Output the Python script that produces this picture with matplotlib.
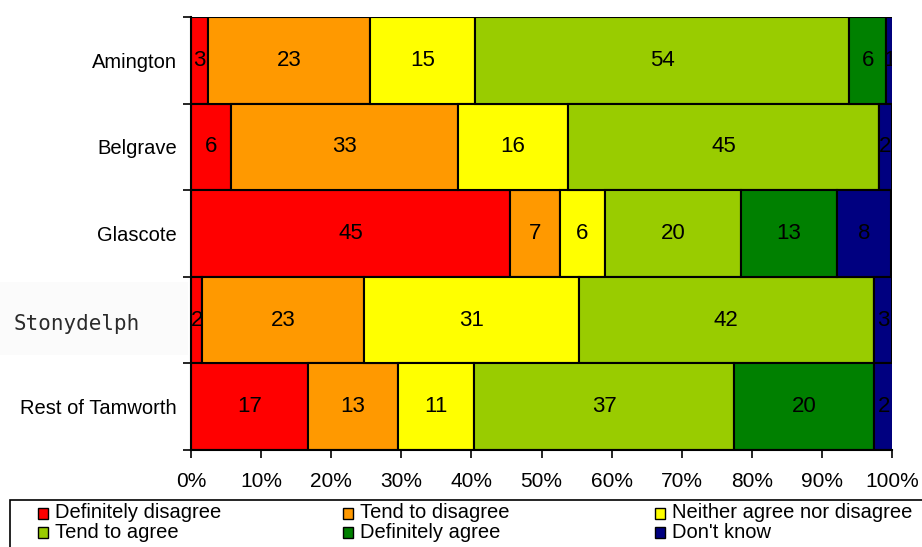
import matplotlib.pyplot as plt
from matplotlib.patches import Rectangle
from matplotlib.transforms import blended_transform_factory
import numpy as np

# Porcentajes (ancho de cada tramo) y etiquetas mostradas
areas = ['Amington', 'Belgrave', 'Glascote', 'Stonydelph', 'Rest of Tamworth']
categories = ['Definitely disagree', 'Tend to disagree', 'Neither agree nor disagree',
              'Tend to agree', 'Definitely agree', "Don't know"]
colors = ['#FF0000', '#FF9900', '#FFFF00', '#99CC00', '#008000', '#000080']

def_disagree = [2.4, 5.7, 45.5, 1.6, 16.7]
tend_disagree = [23.1, 32.4, 7.1, 23.1, 12.8]
neither = [15.0, 15.7, 6.4, 30.6, 10.9]
tend_agree = [53.4, 44.3, 19.5, 42.1, 37.1]
def_agree = [5.3, 0.0, 13.6, 0.0, 20.0]
dont_know = [0.9, 1.9, 7.8, 2.6, 2.6]

lbl_def_disagree = [3, 6, 45, 2, 17]
lbl_tend_disagree = [23, 33, 7, 23, 13]
lbl_neither = [15, 16, 6, 31, 11]
lbl_tend_agree = [54, 45, 20, 42, 37]
lbl_def_agree = [6, 0, 13, 0, 20]
lbl_dont_know = [1, 2, 8, 3, 2]

series = [def_disagree, tend_disagree, neither, tend_agree, def_agree, dont_know]
labels = [lbl_def_disagree, lbl_tend_disagree, lbl_neither, lbl_tend_agree,
          lbl_def_agree, lbl_dont_know]

plt.rcParams['font.family'] = ['Liberation Sans', 'DejaVu Sans']

fig = plt.figure(figsize=(9.22, 5.47), dpi=100)
ax = fig.add_axes([191 / 922, 1 - 450 / 547, 701 / 922, 433 / 547])

y = np.arange(len(areas))
left = np.zeros(len(areas))
for vals, lbls, col in zip(series, labels, colors):
    vals = np.array(vals)
    ax.barh(y, vals, left=left, height=1.0, color=col, edgecolor='black', linewidth=1.5)
    for i in range(len(areas)):
        if lbls[i] > 0:
            ax.text(left[i] + vals[i] / 2, y[i], str(lbls[i]), ha='center', va='center',
                    fontsize=16, color='black', clip_on=True)
    left += vals

ax.set_xlim(0, 100)
ax.set_ylim(len(areas) - 0.5, -0.5)
ax.set_xticks(np.arange(0, 101, 10))
ax.set_xticklabels([f'{t}%' for t in range(0, 101, 10)], fontsize=15)
ax.set_yticks(np.arange(-0.5, len(areas), 1.0))
ax.set_yticklabels([])
ax.set_yticks(y, minor=True)
# Stonydelph va aparte, con otra fuente como en el original
ax.set_yticklabels([a if a != 'Stonydelph' else '' for a in areas], minor=True, fontsize=14.5)
ax.tick_params(axis='y', which='minor', length=0, pad=10)
ax.tick_params(axis='y', which='major', length=6, width=1.2, direction='out')
ax.tick_params(axis='x', length=6, width=1.2, direction='out', pad=10)

trans = blended_transform_factory(fig.transFigure, ax.transData)
k_st = areas.index('Stonydelph')
fig.add_artist(Rectangle((0, 1 - 355 / 547), 188 / 922, 73 / 547, transform=fig.transFigure,
                         facecolor='#fbfbfb', edgecolor='none', zorder=0))
fig.text(14 / 922, 0, 'Stonydelph', transform=trans, ha='left', va='center',
         family='DejaVu Sans Mono', fontsize=15, color='#2a2a2a')
fig.texts[-1].set_y(y[k_st] + 0.04)

for s in ['top', 'right']:
    ax.spines[s].set_visible(False)
ax.spines['left'].set_linewidth(1.5)
ax.spines['bottom'].set_linewidth(1.5)

# Leyenda dibujada a mano: 3 columnas, 2 filas
fig.add_artist(Rectangle((10 / 922, -0.05), 1.0, 1 - 500 / 547 + 0.05,
                         transform=fig.transFigure, facecolor='white',
                         edgecolor='black', linewidth=1.2))
col_x = [38, 343, 655]
row_y = [513, 532]
for k, (cat, col) in enumerate(zip(categories, colors)):
    r, c = divmod(k, 3)
    x0 = col_x[c] / 922
    yc = 1 - row_y[r] / 547
    fig.add_artist(Rectangle((x0, yc - 5.5 / 547), 10 / 922, 11 / 547,
                             transform=fig.transFigure, facecolor=col,
                             edgecolor='black', linewidth=1.0))
    fig.text(x0 + 17 / 922, yc, cat, ha='left', va='center', fontsize=14.5)

fig.savefig('out.png', dpi=100)
